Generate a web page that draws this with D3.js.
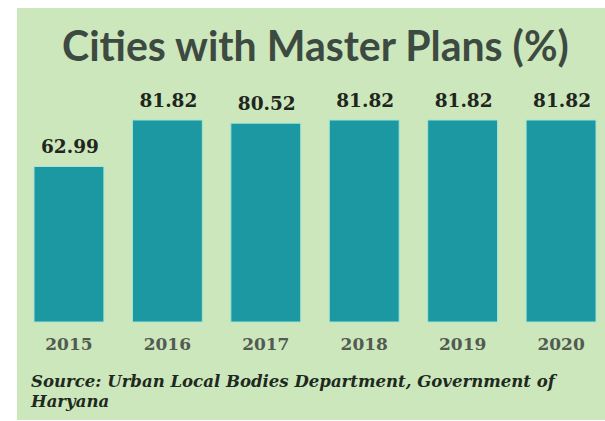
<!DOCTYPE html>
<html><head><meta charset="utf-8">
<script src="https://cdn.jsdelivr.net/npm/d3@7"></script>
<style>html,body{margin:0;padding:0;background:#fff;}svg{display:block;}</style>
</head><body>
<script>
const years = ["2015","2016","2017","2018","2019","2020"];
const values = [62.99, 81.82, 80.52, 81.82, 81.82, 81.82];
const valueLabels = ["62.99","81.82","80.52","81.82","81.82","81.82"];
const titleText = "Cities with Master Plans (%)";
const sourceLines = ["Source: Urban Local Bodies Department, Government of", "Haryana"];

const W = 605, H = 421;
const svg = d3.select("body").append("svg").attr("width", W).attr("height", H);

svg.append("rect").attr("x", 17).attr("y", 8).attr("width", W - 17).attr("height", 412).attr("fill", "#cde7bc");

const x = d3.scaleBand().domain(years).range([34, 596]).paddingInner(0.29).paddingOuter(0);
const y = d3.scaleLinear().domain([0, 81.82]).range([322, 120]);

function fit(sel, width) {
  const len = sel.node().getComputedTextLength();
  const fs = parseFloat(sel.attr("font-size"));
  sel.attr("font-size", fs * width / len);
}

const title = svg.append("text").attr("x", 62).attr("y", 61)
  .attr("font-family", "Lato, 'Open Sans', sans-serif").attr("font-weight", "bold")
  .attr("font-size", 36).attr("fill", "#3d4a41").text(titleText);
fit(title, 507);

svg.selectAll("rect.bar").data(values).join("rect").attr("class", "bar")
  .attr("x", (d, i) => x(years[i])).attr("width", x.bandwidth())
  .attr("y", d => y(d)).attr("height", d => y(0) - y(d))
  .attr("fill", "#1b98a1").attr("stroke", "#a6e6d6").attr("stroke-width", 1);

svg.selectAll("text.val").data(values).join("text").attr("class", "val")
  .attr("x", (d, i) => x(years[i]) + x.bandwidth() / 2 + 1)
  .attr("y", d => y(d) - 13)
  .attr("text-anchor", "middle")
  .attr("font-family", "'DejaVu Serif', serif").attr("font-weight", "bold")
  .attr("font-size", 18.5).attr("fill", "#1f2620")
  .text((d, i) => valueLabels[i]);

const xAxis = d3.axisBottom(x).tickSize(0).tickPadding(0);
const ax = svg.append("g").attr("transform", "translate(0,350)").call(xAxis);
ax.select(".domain").remove();
ax.selectAll("text").attr("dy", 0)
  .attr("font-family", "'DejaVu Serif', serif").attr("font-weight", "bold")
  .attr("font-size", 17).attr("fill", "#525a52");

const s1 = svg.append("text").attr("x", 31).attr("y", 387)
  .attr("font-family", "'DejaVu Serif', serif").attr("font-weight", "bold").attr("font-style", "italic")
  .attr("font-size", 16).attr("fill", "#1e2a1f").text(sourceLines[0]);
fit(s1, 524);
svg.append("text").attr("x", 31).attr("y", 407)
  .attr("font-family", "'DejaVu Serif', serif").attr("font-weight", "bold").attr("font-style", "italic")
  .attr("font-size", s1.attr("font-size")).attr("fill", "#1e2a1f").text(sourceLines[1]);
</script>
</body></html>
